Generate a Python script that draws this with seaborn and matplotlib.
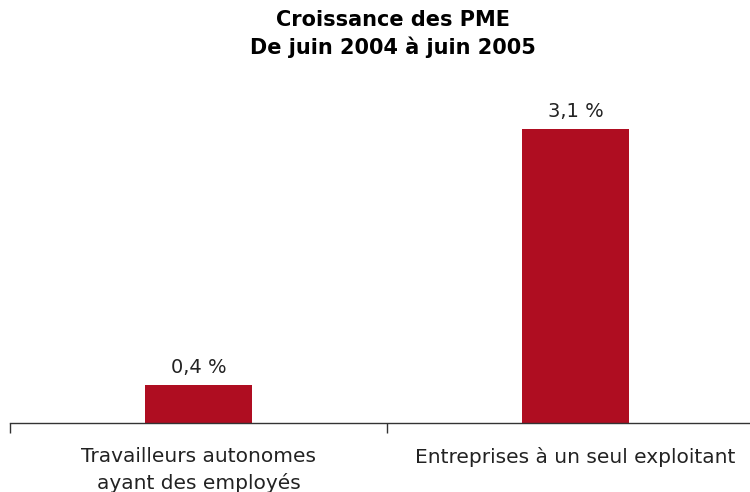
import matplotlib
matplotlib.use("Agg")
import matplotlib.pyplot as plt
import seaborn as sns
import pandas as pd

categories = ["Travailleurs autonomes\nayant des employés", "Entreprises à un seul exploitant"]
values = [0.4, 3.1]
value_labels = ["0,4 %", "3,1 %"]

df = pd.DataFrame({"Catégorie": categories, "Croissance": values})

sns.set_style("white")
plt.rcParams["font.family"] = ["DejaVu Sans"]

fig = plt.figure(figsize=(7.5, 4.92), dpi=100)
ax = fig.add_axes([10 / 750, 69 / 492, 754 / 750, 3.5 * 94.8 / 492])

sns.barplot(data=df, x="Catégorie", y="Croissance", color="#AF0D21",
            width=0.284, saturation=1, linewidth=0, ax=ax)
ax.bar_label(ax.containers[0], labels=value_labels, padding=6,
             fontsize=14, color="#222222")

ax.set_xlim(-0.5, 1.5)
ax.set_ylim(0, 3.5)
ax.set_xlabel("")
ax.set_ylabel("")
ax.set_yticks([])
for side in ["top", "right", "left"]:
    ax.spines[side].set_visible(False)
ax.spines["bottom"].set_color("#333333")
ax.spines["bottom"].set_linewidth(1.0)

ax.set_xticks([0, 1])
ax.set_xticklabels(categories, fontsize=14.5, color="#222222", linespacing=1.45)
ax.tick_params(axis="x", which="major", bottom=False, length=0, pad=17)
ax.set_xticks([-0.5, 0.5, 1.5], minor=True)
ax.tick_params(axis="x", which="minor", bottom=True, length=7, width=1,
               color="#333333", direction="out")

fig.text(393 / 750, 1 - 34 / 492, "Croissance des PME\nDe juin 2004 à juin 2005",
         ha="center", va="center", fontsize=15, fontweight="bold",
         color="black", linespacing=1.4)

fig.savefig("out.png", dpi=100)
